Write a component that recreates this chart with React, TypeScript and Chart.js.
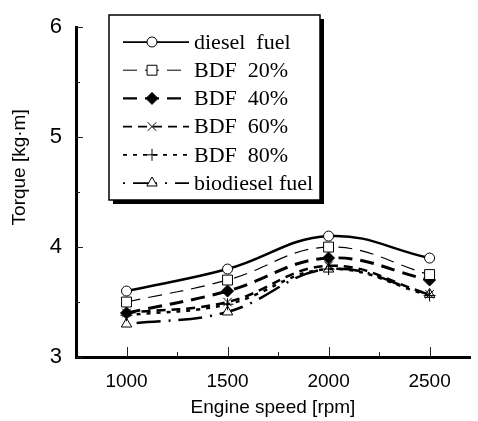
import React, { useEffect, useRef } from 'react';
import { Chart, registerables } from 'chart.js';

Chart.register(...registerables);

// Engine speed (rpm) at which torque was measured
const engineSpeed = [1000, 1500, 2000, 2500];

// Torque [kg·m] per fuel blend
const dieselFuel = [3.6, 3.8, 4.1, 3.9];
const bdf20 = [3.5, 3.7, 4.0, 3.75];
const bdf40 = [3.4, 3.6, 3.9, 3.7];
const bdf60 = [3.4, 3.5, 3.83, 3.57];
const bdf80 = [3.38, 3.48, 3.8, 3.56];
const biodieselFuel = [3.3, 3.41, 3.8, 3.57];

const seriesLabels = ['diesel  fuel', 'BDF  20%', 'BDF  40%', 'BDF  60%', 'BDF  80%', 'biodiesel fuel'];

// Axis ticks
const xTickLabels = [1000, 1500, 2000, 2500];
const xMinorTicks = [1250, 1750, 2250];
const yTickLabels = [3, 4, 5, 6];
const yMinorTicks = [3.5, 4.5, 5.5];

const SANS = '"Liberation Sans", Arial, sans-serif';
const SERIF = '"Liberation Serif", "Times New Roman", serif';

const toPoints = (vals: number[]) => engineSpeed.map((x, i) => ({ x, y: vals[i] }));

function drawMarker(ctx: CanvasRenderingContext2D, style: string, x: number, y: number, r: number, fill: string) {
  ctx.save();
  ctx.setLineDash([]);
  ctx.lineWidth = 1;
  ctx.strokeStyle = '#000';
  ctx.fillStyle = fill;
  ctx.beginPath();
  switch (style) {
    case 'circle':
      ctx.arc(x, y, r, 0, Math.PI * 2);
      ctx.fill();
      ctx.stroke();
      break;
    case 'rect': {
      const s = r * Math.SQRT1_2;
      ctx.rect(x - s, y - s, 2 * s, 2 * s);
      ctx.fill();
      ctx.stroke();
      break;
    }
    case 'rectRot':
      ctx.moveTo(x, y - r);
      ctx.lineTo(x + r, y);
      ctx.lineTo(x, y + r);
      ctx.lineTo(x - r, y);
      ctx.closePath();
      ctx.fill();
      ctx.stroke();
      break;
    case 'triangle': {
      const h = r * 1.5;
      ctx.moveTo(x, y - r);
      ctx.lineTo(x + h / Math.sqrt(3), y + r / 2);
      ctx.lineTo(x - h / Math.sqrt(3), y + r / 2);
      ctx.closePath();
      ctx.fill();
      ctx.stroke();
      break;
    }
    case 'cross':
      ctx.moveTo(x - r, y);
      ctx.lineTo(x + r, y);
      ctx.moveTo(x, y - r);
      ctx.lineTo(x, y + r);
      ctx.stroke();
      break;
    case 'crossRot': {
      const d = r * Math.SQRT1_2;
      ctx.moveTo(x - d, y - d);
      ctx.lineTo(x + d, y + d);
      ctx.moveTo(x + d, y - d);
      ctx.lineTo(x - d, y + d);
      ctx.stroke();
      break;
    }
  }
  ctx.restore();
}

// Inward tick marks on both axes
const inwardTicks = {
  id: 'inwardTicks',
  afterDatasetsDraw(chart: any) {
    const { ctx, chartArea, scales } = chart;
    ctx.save();
    ctx.strokeStyle = '#222';
    ctx.lineWidth = 1;
    const yTick = (v: number, len: number) => {
      const py = Math.round(scales.y.getPixelForValue(v)) + 0.5;
      ctx.beginPath();
      ctx.moveTo(chartArea.left, py);
      ctx.lineTo(chartArea.left + len, py);
      ctx.stroke();
    };
    const xTick = (v: number, len: number) => {
      const px = Math.round(scales.x.getPixelForValue(v)) + 0.5;
      ctx.beginPath();
      ctx.moveTo(px, chartArea.bottom);
      ctx.lineTo(px, chartArea.bottom - len);
      ctx.stroke();
    };
    yTickLabels.forEach((v) => yTick(v, 7));
    yMinorTicks.forEach((v) => yTick(v, 4));
    xTickLabels.forEach((v) => xTick(v, 10));
    xMinorTicks.forEach((v) => xTick(v, 5));
    ctx.restore();
  },
};

// Vertical axis title, set a little above the axis middle
const yTitle = {
  id: 'yTitle',
  afterDraw(chart: any) {
    const { ctx, chartArea } = chart;
    ctx.save();
    ctx.translate(20, chartArea.top + (chartArea.bottom - chartArea.top) * 0.425);
    ctx.rotate(-Math.PI / 2);
    ctx.font = `19px ${SANS}`;
    ctx.fillStyle = '#000';
    ctx.textAlign = 'center';
    ctx.textBaseline = 'middle';
    ctx.fillText('Torque [kg·m]', 0, 0);
    ctx.restore();
  },
};

// Boxed legend with a drop shadow, inside the plot
const boxedLegend = {
  id: 'boxedLegend',
  afterDraw(chart: any) {
    const ctx: CanvasRenderingContext2D = chart.ctx;
    const x0 = 109, y0 = 15, w = 211, h = 185;
    ctx.save();
    ctx.fillStyle = '#000';
    ctx.fillRect(x0 + 4, y0 + 4, w, h);
    ctx.fillStyle = '#fff';
    ctx.fillRect(x0, y0, w, h);
    ctx.strokeStyle = '#000';
    ctx.lineWidth = 1.5;
    ctx.strokeRect(x0, y0, w, h);
    chart.data.datasets.forEach((ds: any, i: number) => {
      const y = 42 + i * 28.2;
      ctx.save();
      ctx.strokeStyle = '#000';
      ctx.lineWidth = Math.max(1, ds.borderWidth * 0.7);
      ctx.setLineDash(ds.borderDash || []);
      ctx.beginPath();
      ctx.moveTo(123, y);
      ctx.lineTo(189, y);
      ctx.stroke();
      ctx.restore();
      drawMarker(ctx, ds.pointStyle, 152, y, ds.pointRadius, ds.pointBackgroundColor);
      ctx.fillStyle = '#000';
      ctx.font = `22px ${SERIF}`;
      ctx.textAlign = 'left';
      ctx.textBaseline = 'middle';
      ctx.fillText(ds.label, 194, y + 1);
    });
    ctx.restore();
  },
};

export default function App() {
  const canvasRef = useRef<HTMLCanvasElement | null>(null);

  useEffect(() => {
    const canvas = canvasRef.current;
    if (!canvas) return;

    const common = {
      borderColor: '#000',
      pointBorderColor: '#000',
      pointBorderWidth: 1,
      tension: 0.4,
      fill: false,
    };

    const chart = new Chart(canvas, {
      type: 'line',
      data: {
        datasets: [
          { ...common, label: seriesLabels[0], data: toPoints(dieselFuel), borderWidth: 2.5, borderDash: [], pointStyle: 'circle', pointRadius: 5, pointBackgroundColor: '#fff' },
          { ...common, label: seriesLabels[1], data: toPoints(bdf20), borderWidth: 1.2, borderDash: [14, 8], pointStyle: 'rect', pointRadius: 7, pointBackgroundColor: '#fff' },
          { ...common, label: seriesLabels[2], data: toPoints(bdf40), borderWidth: 3, borderDash: [14, 8], pointStyle: 'rectRot', pointRadius: 6, pointBackgroundColor: '#000' },
          { ...common, label: seriesLabels[3], data: toPoints(bdf60), borderWidth: 2.5, borderDash: [9, 6], pointStyle: 'crossRot', pointRadius: 6, pointBackgroundColor: '#fff' },
          { ...common, label: seriesLabels[4], data: toPoints(bdf80), borderWidth: 2.5, borderDash: [4, 6], pointStyle: 'cross', pointRadius: 6, pointBackgroundColor: '#fff' },
          { ...common, label: seriesLabels[5], data: toPoints(biodieselFuel), borderWidth: 2.5, borderDash: [2, 8, 24, 8], pointStyle: 'triangle', pointRadius: 6, pointBackgroundColor: '#fff' },
        ] as any,
      },
      options: {
        animation: false,
        responsive: false,
        maintainAspectRatio: false,
        layout: { padding: { top: 23, right: 2, left: 0, bottom: 0 } },
        plugins: {
          legend: { display: false },
          tooltip: { enabled: false },
        },
        scales: {
          x: {
            type: 'linear',
            min: 750,
            max: 2700,
            afterFit: (s: any) => { s.height = 64; },
            afterBuildTicks: (s: any) => {
              s.ticks = xTickLabels.map((v) => ({ value: v }));
            },
            ticks: {
              autoSkip: false,
              maxRotation: 0,
              padding: 13,
              color: '#000',
              font: { family: SANS, size: 19 },
              callback: (v: any) => String(v),
            },
            grid: { display: true, drawOnChartArea: false, drawTicks: false, color: 'rgba(0,0,0,0)' },
            border: { display: true, color: '#000', width: 3 },
            title: {
              display: true,
              text: 'Engine speed [rpm]',
              color: '#000',
              font: { family: SANS, size: 19 },
              padding: { top: 0, bottom: 2 },
            },
          },
          y: {
            type: 'linear',
            min: 3,
            max: 6,
            afterFit: (s: any) => { s.width = 76; },
            afterBuildTicks: (s: any) => {
              s.ticks = yTickLabels.map((v) => ({ value: v }));
            },
            ticks: {
              padding: 14,
              color: '#000',
              font: { family: SANS, size: 22 },
              callback: (v: any) => String(v),
            },
            grid: { display: true, drawOnChartArea: false, drawTicks: false, color: 'rgba(0,0,0,0)' },
            border: { display: true, color: '#000', width: 3 },
          },
        },
      } as any,
      plugins: [inwardTicks, yTitle, boxedLegend],
    });

    return () => chart.destroy();
  }, []);

  return (
    <div style={{ position: 'fixed', left: 0, top: 0, width: 478, height: 421, background: '#fff' }}>
      <canvas ref={canvasRef} width={478} height={421} style={{ display: 'block' }} />
    </div>
  );
}
